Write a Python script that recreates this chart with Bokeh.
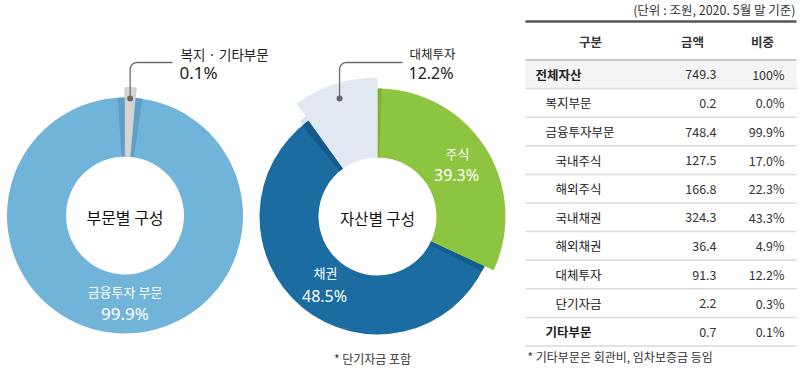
import numpy as np
from bokeh.plotting import figure
from bokeh.models import Range1d
from bokeh.core.properties import value
from bokeh.embed import file_html
from bokeh.resources import INLINE

# ---------------- data ----------------
sector_labels = ["복지 · 기타부문", "금융투자 부문"]
sector_pct = ["0.1%", "99.9%"]
sector_drawn_share = [1.4, 98.6]          # share of the ring as drawn in the picture

asset_labels = ["주식", "채권", "대체투자"]
asset_pct = ["39.3%", "48.5%", "12.2%"]
asset_drawn_share = [31.9, 58.2, 9.9]     # share of the ring as drawn in the picture

table_items = ["전체자산", "복지부문", "금융투자부문", "국내주식", "해외주식",
               "국내채권", "해외채권", "대체투자", "단기자금", "기타부문"]
table_amount = [749.3, 0.2, 748.4, 127.5, 166.8, 324.3, 36.4, 91.3, 2.2, 0.7]
table_share = ["100%", "0.0%", "99.9%", "17.0%", "22.3%", "43.3%", "4.9%", "12.2%", "0.3%", "0.1%"]
table_level = [0, 1, 1, 2, 2, 2, 2, 2, 2, 1]
table_bold = [True, False, False, False, False, False, False, False, False, True]
table_header = ["구분", "금액", "비중"]
unit_note = "(단위 : 조원, 2020. 5월 말 기준)"
table_note = "* 기타부문은 회관비, 임차보증금 등임"
chart_note = "* 단기자금 포함"

FONT = value("Noto Sans CJK KR")

p = figure(width=800, height=376, x_range=Range1d(0, 800), y_range=Range1d(376, 0),
           output_backend="svg", toolbar_location=None, min_border=0,
           x_axis_location=None, y_axis_location=None)
p.outline_line_color = None
p.grid.visible = False
p.background_fill_color = "white"
p.border_fill_color = "white"


def angles(shares, start=90.0):
    a = [start]
    for s in shares:
        a.append(a[-1] - s * 3.6)
    return a


def ring(cx, cy, a0, a1, r_in, r_out, color, line=None):
    # a0 > a1 (clockwise from a0 to a1)
    p.annular_wedge(x=[cx], y=[cy], inner_radius=r_in, outer_radius=r_out,
                    inner_radius_units="screen", outer_radius_units="screen",
                    start_angle=np.radians(a1), end_angle=np.radians(a0),
                    fill_color=color, line_color=line, line_width=0.6 if line else 0)


def leader(x0, y0, yc, x1, r=7, color="#6b6b6b"):
    t = np.linspace(np.pi, 1.5 * np.pi, 12)
    cxr, cyr = x0 + r, yc + r
    xs = [x0] + list(cxr + r * np.cos(t)) + [x1]
    ys = [y0] + list(cyr + r * np.sin(t)) + [yc]
    p.line(xs, ys, line_color=color, line_width=1.3)
    p.scatter([x0], [y0], size=6, fill_color="#666666", line_color=None)


def txt(x, y, s, size, color="#222222", align="left", bold=False, font=FONT):
    p.text(x=[x], y=[y], text=[s], text_font=font, text_font_size=value(size),
           text_color=color, text_align=align, text_baseline="middle",
           text_font_style="bold" if bold else "normal")


# ---------------- left donut ----------------
lcx, lcy = 124.5, 215
la = angles(sector_drawn_share)
ring(lcx, lcy, la[1], la[2], 59, 118, "#71B4D9")            # 금융투자
ring(lcx, lcy, la[0] + 3.5, la[0], 59, 118, "#5E9FC7")       # shade left of gap
ring(lcx, lcy, la[1], la[1] - 3.5, 59, 118, "#5E9FC7")       # shade right of gap
ring(lcx, lcy, la[0], la[1], 59, 128, "#D4D4D4", "#BDBDBD")  # 복지·기타
lmid = np.radians((la[0] + la[1]) / 2)
leader(lcx + 117 * np.cos(lmid), lcy - 117 * np.sin(lmid), 62, 172)
txt(180, 53, sector_labels[0], "13.5px")
txt(179, 72, sector_pct[0], "17px", font=value("Noto Sans"))
txt(lcx, 216, "부문별 구성", "16px", color="#111111", align="center")
txt(lcx, 291, sector_labels[1], "13px", color="white", align="center")
txt(lcx, 313, sector_pct[1], "17px", color="white", align="center", font=value("Noto Sans"))

# ---------------- right donut ----------------
rcx, rcy = 377, 216
ra = angles(asset_drawn_share)
ring(rcx, rcy, ra[2] + 3.5, ra[2], 59, 123, "#D8DEE4")        # small sliver
ring(rcx, rcy, ra[1], ra[2], 59, 118, "#1A6CA1")              # 채권
ring(rcx, rcy, ra[2] + 4, ra[2] + 0.5, 59, 118, "#14598A")    # shade near gray
ring(rcx, rcy, ra[1], ra[1] - 3, 59, 118, "#155D8D")          # shade near green
ring(rcx, rcy, ra[0], ra[1], 59, 128, "#8DC540")              # 주식
ring(rcx, rcy, ra[0], ra[0] - 1.8, 59, 128, "#79B236")        # green edge
ring(rcx, rcy, ra[2], ra[3], 59, 139, "#E1E8EF")              # 대체투자
rmid = np.radians((ra[2] + ra[3]) / 2)
leader(rcx + 124 * np.cos(rmid), rcy - 124 * np.sin(rmid), 62, 402)
txt(409, 53, asset_labels[2], "12.5px")
txt(408, 72, asset_pct[2], "16px", font=value("Noto Sans"))
txt(rcx, 217, "자산별 구성", "15.5px", color="#111111", align="center")
txt(457, 153, asset_labels[0], "13px", color="white", align="center")
txt(456, 174, asset_pct[0], "16px", color="white", align="center", font=value("Noto Sans"))
txt(325, 272, asset_labels[1], "13px", color="white", align="center")
txt(324, 295, asset_pct[1], "16px", color="white", align="center", font=value("Noto Sans"))
txt(372, 358, chart_note, "12px", color="#333333", align="center")

# ---------------- table ----------------
tl, tr = 525, 796
top0, rh = 59.5, 28.6
txt(795, 9, unit_note, "12.5px", color="#333333", align="right")
p.segment(x0=[tl], y0=[21], x1=[tr], y1=[21], line_color="#555555", line_width=2.5)
hdr_x = [590, 692, 762]
for hx, h in zip(hdr_x, table_header):
    txt(hx, 41, h, "12.5px", color="#333333", align="center", bold=True)
p.quad(left=[tl], right=[tr], top=[top0], bottom=[top0 + rh], fill_color="#F4F4F4", line_color=None)
p.segment(x0=[tl], y0=[top0], x1=[tr], y1=[top0], line_color="#C8C8C8", line_width=2)
n = len(table_items)
ys = [top0 + rh * (i + 0.5) for i in range(n)]
lines_y = [top0 + rh * (i + 1) for i in range(n)]
p.segment(x0=[tl] * n, y0=lines_y, x1=[tr] * n, y1=lines_y, line_color="#DADADA", line_width=1.5)
indent = {0: 535, 1: 545, 2: 555}
for i in range(n):
    txt(indent[table_level[i]], ys[i], table_items[i], "12.5px", color="#222222", bold=table_bold[i])
    txt(716, ys[i], f"{table_amount[i]:.1f}", "12.5px", color="#333333", align="right")
    txt(784, ys[i], table_share[i], "12.5px", color="#333333", align="right")
txt(527, 356, table_note, "12px", color="#333333")

open("out.html", "w").write(file_html(p, INLINE))
